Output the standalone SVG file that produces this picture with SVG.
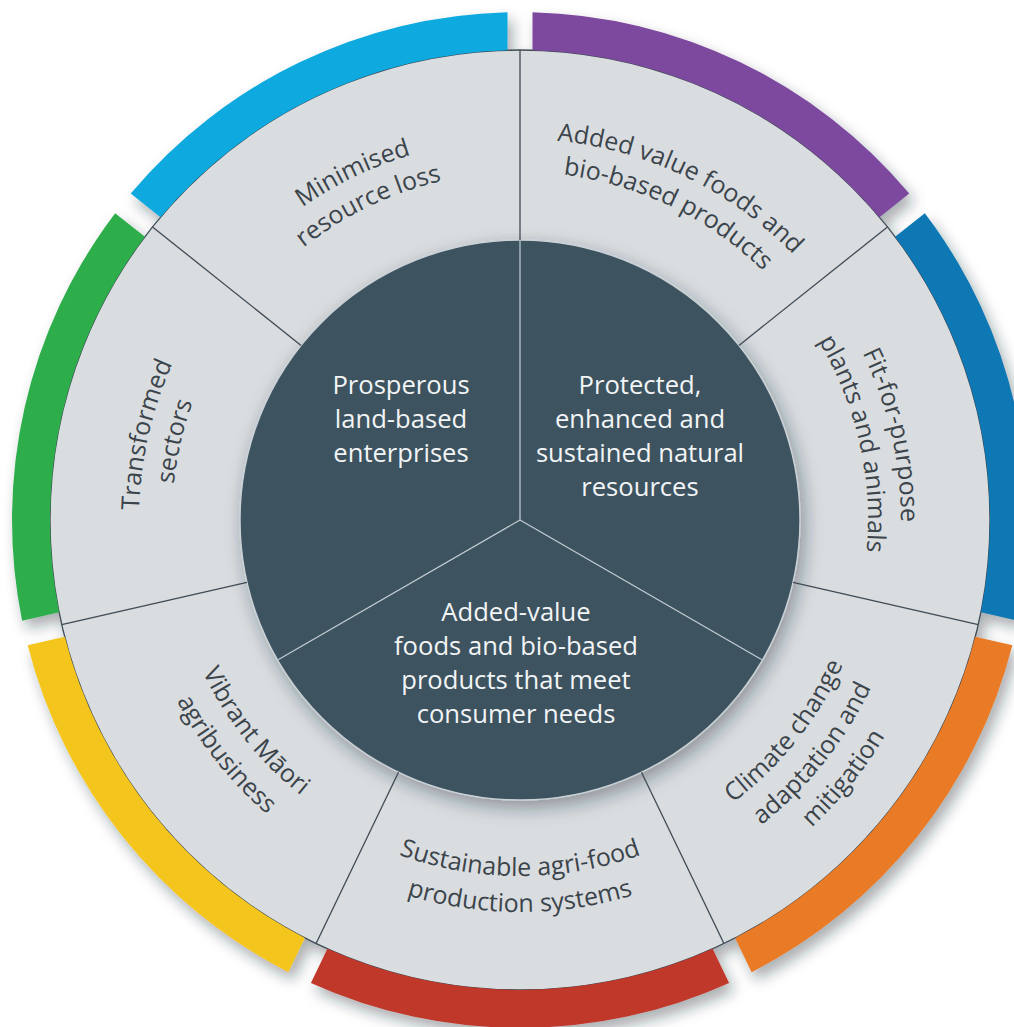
<svg xmlns="http://www.w3.org/2000/svg" xmlns:xlink="http://www.w3.org/1999/xlink" width="1014" height="1027" viewBox="0 0 1014 1027">
  <defs>
    <style>
      .arc { stroke: none; }
      .ring { fill: #D9DDE0; stroke: #3F4B55; stroke-width: 1.3; }
      .core { fill: #3D5361; stroke: #C9D1D6; stroke-width: 1.4; }
      .div-outer { stroke: #3F4B55; stroke-width: 1.3; fill: none; }
      .div-inner { stroke: #C4CDD3; stroke-width: 1.2; fill: none; }
      .lbl { font-family: "Open Sans", "Noto Sans", "DejaVu Sans", sans-serif; font-size: 25px; fill: #3C444B; }
      .ctr { font-family: "Open Sans", "Noto Sans", "DejaVu Sans", sans-serif; font-size: 25.6px; fill: #F2F4F5; text-anchor: middle; }
    </style>
    <filter id="wheelShadow" x="-10%" y="-10%" width="125%" height="125%">
      <feDropShadow dx="5" dy="8" stdDeviation="7" flood-color="#1E2A33" flood-opacity="0.38"/>
    </filter>
    <filter id="coreShadow" x="-15%" y="-15%" width="135%" height="135%">
      <feDropShadow dx="4" dy="7" stdDeviation="9" flood-color="#1E2A33" flood-opacity="0.4"/>
    </filter>
    <!-- label arcs centred on the origin: cw arcs peak at the top, ccw arcs at the bottom -->
    <path id="cw381" d="M -244.90 -291.86 A 381 381 0 0 1 244.90 -291.86"/>
    <path id="cw348" d="M -223.69 -266.58 A 348 348 0 0 1 223.69 -266.58"/>
    <path id="ccw352" d="M -226.26 269.65 A 352 352 0 0 0 226.26 269.65"/>
    <path id="ccw388" d="M -249.40 297.23 A 388 388 0 0 0 249.40 297.23"/>
    <path id="ccw354" d="M -227.55 271.18 A 354 354 0 0 0 227.55 271.18"/>
    <path id="ccw389" d="M -250.04 297.99 A 389 389 0 0 0 250.04 297.99"/>
    <path id="ccw424" d="M -272.54 324.80 A 424 424 0 0 0 272.54 324.80"/>
    <path id="ccw356" d="M -228.83 272.71 A 356 356 0 0 0 228.83 272.71"/>
    <path id="ccw392" d="M -251.97 300.29 A 392 392 0 0 0 251.97 300.29"/>
  </defs>

  <rect width="1014" height="1027" fill="#FFFFFF"/>

  <!-- wheel body: light ring plus coloured rim bands, shadowed together -->
  <g id="wheel" filter="url(#wheelShadow)">
    <circle class="ring" cx="520" cy="520" r="470"/>
    <path class="arc" fill="#7D4A9F" d="M 532.5 12.154 A 508 508 0 0 1 909.256 193.594 L 879.537 217.290 A 470 470 0 0 0 532.5 50.166 Z"/>
    <path class="arc" fill="#0A78B4" d="M 924.844 213.140 A 508 508 0 0 1 1017.895 620.819 L 980.836 612.361 A 470 470 0 0 0 895.125 236.836 Z"/>
    <path class="arc" fill="#E97A25" d="M 1012.331 645.193 A 508 508 0 0 1 751.609 972.130 L 735.115 937.882 A 470 470 0 0 0 975.272 636.735 Z"/>
    <path class="arc" fill="#C0372A" d="M 729.085 982.978 A 508 508 0 0 1 310.915 982.978 L 327.409 948.730 A 470 470 0 0 0 712.591 948.730 Z"/>
    <path class="arc" fill="#F4C51E" d="M 288.391 972.130 A 508 508 0 0 1 27.669 645.193 L 64.728 636.735 A 470 470 0 0 0 304.885 937.882 Z"/>
    <path class="arc" fill="#2FAE4B" d="M 22.105 620.819 A 508 508 0 0 1 115.156 213.140 L 144.875 236.836 A 470 470 0 0 0 59.164 612.361 Z"/>
    <path class="arc" fill="#0BA9DF" d="M 130.744 193.594 A 508 508 0 0 1 507.5 12.154 L 507.5 50.166 A 470 470 0 0 0 160.463 217.290 Z"/>
  </g>

  <!-- dark core -->
  <circle id="core" class="core" cx="520" cy="520" r="280" filter="url(#coreShadow)"/>

  <!-- dividers -->
  <g id="connectors">
    <line class="div-outer" x1="520" y1="240" x2="520" y2="50"/>
    <line class="div-outer" x1="738.913" y1="345.423" x2="887.461" y2="226.960"/>
    <line class="div-outer" x1="792.980" y1="582.306" x2="978.216" y2="624.585"/>
    <line class="div-outer" x1="641.488" y1="772.271" x2="723.925" y2="943.455"/>
    <line class="div-outer" x1="398.512" y1="772.271" x2="316.075" y2="943.455"/>
    <line class="div-outer" x1="247.020" y1="582.306" x2="61.784" y2="624.585"/>
    <line class="div-outer" x1="301.087" y1="345.423" x2="152.539" y2="226.960"/>
    <line class="div-inner" x1="520" y1="520" x2="520" y2="240.7"/>
    <line class="div-inner" x1="520" y1="520" x2="761.9" y2="659.7"/>
    <line class="div-inner" x1="520" y1="520" x2="278.1" y2="659.7"/>
  </g>

  <!-- outer segments -->
  <g id="seg-minimised" transform="translate(520 520) rotate(-25.714)">
    <text class="lbl"><textPath xlink:href="#cw381" href="#cw381" startOffset="50%" text-anchor="middle">Minimised</textPath></text>
    <text class="lbl"><textPath xlink:href="#cw348" href="#cw348" startOffset="50%" text-anchor="middle">resource loss</textPath></text>
  </g>
  <g id="seg-added-value" transform="translate(520 520) rotate(25.714)">
    <text class="lbl"><textPath xlink:href="#cw381" href="#cw381" startOffset="50%" text-anchor="middle">Added value foods and</textPath></text>
    <text class="lbl"><textPath xlink:href="#cw348" href="#cw348" startOffset="50%" text-anchor="middle">bio-based products</textPath></text>
  </g>
  <g id="seg-fit-for-purpose" transform="translate(520 520) rotate(77.143)">
    <text class="lbl"><textPath xlink:href="#cw381" href="#cw381" startOffset="50%" text-anchor="middle">Fit-for-purpose</textPath></text>
    <text class="lbl"><textPath xlink:href="#cw348" href="#cw348" startOffset="50%" text-anchor="middle">plants and animals</textPath></text>
  </g>
  <g id="seg-climate" transform="translate(520 520) rotate(-51.429)">
    <text class="lbl"><textPath xlink:href="#ccw354" href="#ccw354" startOffset="50%" text-anchor="middle">Climate change</textPath></text>
    <text class="lbl"><textPath xlink:href="#ccw389" href="#ccw389" startOffset="50%" text-anchor="middle">adaptation and</textPath></text>
    <text class="lbl"><textPath xlink:href="#ccw424" href="#ccw424" startOffset="50%" text-anchor="middle">mitigation</textPath></text>
  </g>
  <g id="seg-sustainable" transform="translate(520 520)">
    <text class="lbl"><textPath xlink:href="#ccw356" href="#ccw356" startOffset="50%" text-anchor="middle">Sustainable agri-food</textPath></text>
    <text class="lbl"><textPath xlink:href="#ccw392" href="#ccw392" startOffset="50%" text-anchor="middle">production systems</textPath></text>
  </g>
  <g id="seg-vibrant-maori" transform="translate(520 520) rotate(51.429)">
    <text class="lbl"><textPath xlink:href="#ccw352" href="#ccw352" startOffset="50%" text-anchor="middle">Vibrant Māori</textPath></text>
    <text class="lbl"><textPath xlink:href="#ccw388" href="#ccw388" startOffset="50%" text-anchor="middle">agribusiness</textPath></text>
  </g>
  <g id="seg-transformed" transform="translate(520 520) rotate(-77.143)">
    <text class="lbl"><textPath xlink:href="#cw381" href="#cw381" startOffset="50%" text-anchor="middle">Transformed</textPath></text>
    <text class="lbl"><textPath xlink:href="#cw348" href="#cw348" startOffset="50%" text-anchor="middle">sectors</textPath></text>
  </g>

  <!-- core sectors -->
  <g id="core-prosperous">
    <text class="ctr" x="401" y="394">Prosperous</text>
    <text class="ctr" x="401" y="428">land-based</text>
    <text class="ctr" x="401" y="462">enterprises</text>
  </g>
  <g id="core-protected">
    <text class="ctr" x="640" y="394">Protected,</text>
    <text class="ctr" x="640" y="428">enhanced and</text>
    <text class="ctr" x="640" y="462">sustained natural</text>
    <text class="ctr" x="640" y="496">resources</text>
  </g>
  <g id="core-added-value">
    <text class="ctr" x="516" y="621">Added-value</text>
    <text class="ctr" x="516" y="655">foods and bio-based</text>
    <text class="ctr" x="516" y="689">products that meet</text>
    <text class="ctr" x="516" y="723">consumer needs</text>
  </g>
</svg>
